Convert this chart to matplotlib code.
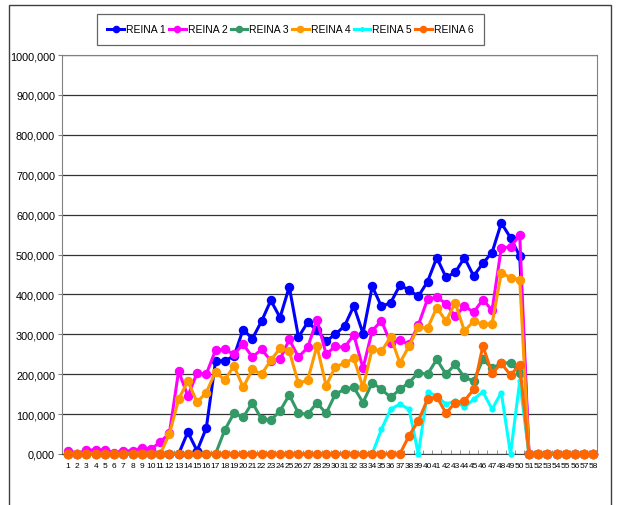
import matplotlib
matplotlib.use('agg')
import matplotlib.pyplot as plt
from matplotlib.ticker import FuncFormatter, FixedLocator
from matplotlib.patches import Rectangle

# dias del periodo (1..58) y produccion por reina
dias = list(range(1, 59))

reina1 = [0, 0, 0, 0, 0, 0, 0, 0, 0, 0, 0, 0, 0, 55000, 8000, 65000,
          232000, 234000, 245000, 312000, 289000, 333000, 385000, 342000, 419000, 293000,
          330000, 310000, 283000, 300000, 321000, 371000, 302000, 420000, 370000, 379000,
          423000, 411000, 395000, 432000, 492000, 443000, 455000, 492000, 446000, 478000,
          505000, 579000, 542000, 496000, 0, 0, 0, 0, 0, 0, 0, 0]
reina2 = [8000, 0, 10000, 10000, 10000, 3000, 8000, 8000, 15000, 12000, 30000, 52000,
          208000, 145000, 203000, 200000, 260000, 262000, 250000, 275000, 243000, 262000,
          234000, 237000, 287000, 243000, 267000, 337000, 250000, 270000, 267000, 299000,
          215000, 309000, 334000, 278000, 285000, 275000, 323000, 388000, 393000, 377000,
          345000, 371000, 355000, 387000, 360000, 517000, 519000, 548000, 0, 0, 0, 0, 0, 0, 0, 0]
reina3 = [0, 0, 0, 0, 0, 0, 0, 0, 0, 0, 0, 0, 0, 0, 0, 0, 0,
          60000, 102000, 92000, 129000, 87000, 85000, 108000, 148000, 102000, 100000, 128000,
          102000, 150000, 162000, 167000, 129000, 179000, 162000, 142000, 162000, 179000,
          204000, 200000, 237000, 200000, 225000, 192000, 183000, 237000, 215000, 227000,
          229000, 204000, 0, 0, 0, 0, 0, 0, 0, 0]
reina4 = [0, 0, 0, 0, 0, 0, 0, 0, 0, 0, 0, 50000, 137000, 183000, 130000, 154000,
          206000, 185000, 221000, 167000, 212000, 200000, 235000, 265000, 258000, 177000,
          185000, 271000, 171000, 219000, 227000, 240000, 167000, 264000, 257000, 294000,
          228000, 271000, 318000, 315000, 367000, 333000, 379000, 308000, 333000, 325000,
          327000, 454000, 442000, 437000, 0, 0, 0, 0, 0, 0, 0, 0]
reina5 = [0] * 34 + [62000, 112000, 125000, 112000, 0, 156000, 145000, 125000, 133000,
                     117000, 137000, 156000, 112000, 154000, 0, 183000] + [0] * 8
reina6 = [0] * 37 + [46000, 83000, 137000, 144000, 102000, 129000, 133000, 162000,
                     271000, 202000, 227000, 198000, 223000] + [0] * 8

nombres = ['REINA 1', 'REINA 2', 'REINA 3', 'REINA 4', 'REINA 5', 'REINA 6']
colores = ['#0000FF', '#FF00FF', '#339966', '#FF9900', '#00FFFF', '#FF6600']
series = [reina1, reina2, reina3, reina4, reina5, reina6]

plt.rcParams['font.family'] = ['Liberation Sans Narrow', 'Liberation Sans', 'DejaVu Sans']


def etiqueta_y(v, pos):
    # el eje original usa un formato raro: 0,000 ... 1000,000
    n = int(round(v))
    if n == 0:
        return '0,000'
    if n >= 1000000:
        return '1000,000'
    return '{:,}'.format(n)


fig = plt.figure(figsize=(6.17, 5.06), dpi=100)
ax = fig.add_axes([62 / 617, 1 - 455 / 506, 535 / 617, 399 / 506])

lineas = []
for nombre, color, valores in zip(nombres, colores, series):
    ms = 4.5 if nombre == 'REINA 5' else 6.8
    l, = ax.plot(dias, valores, color=color, lw=2.2, marker='o', ms=ms,
                 markeredgewidth=0, label=nombre, clip_on=False, zorder=3)
    lineas.append(l)

ax.set_xlim(0.35, 58.38)
ax.set_ylim(0, 1000000)
ax.yaxis.set_major_locator(FixedLocator(list(range(0, 1000001, 100000))))
ax.yaxis.set_major_formatter(FuncFormatter(etiqueta_y))
ax.grid(axis='y', color='#333333', lw=0.9)
ax.set_axisbelow(True)

ax.set_xticks(dias)
ax.set_xticklabels([str(d) for d in dias])
ax.set_xticks([d + 0.5 for d in dias[:-1]], minor=True)
ax.tick_params(axis='x', which='major', length=0, labelsize=6, pad=6)
ax.tick_params(axis='x', which='minor', direction='in', length=3, color='#808080')
ax.tick_params(axis='y', length=3, labelsize=7.8, pad=2, color='#808080')

for lado in ['left', 'top', 'right']:
    ax.spines[lado].set_color('#808080')
ax.spines['bottom'].set_color('#404040')

leg = fig.legend(handles=lineas, loc='upper left', bbox_to_anchor=(97 / 617, 1 - 15 / 506),
                 borderaxespad=0, ncol=6, fontsize=7.5, frameon=True, fancybox=False,
                 edgecolor='#404040', handlelength=1.6, handletextpad=0.2, columnspacing=0.3,
                 borderpad=1.0, markerscale=0.8)
leg.get_frame().set_linewidth(0.9)

# marco exterior del grafico
fig.patches.append(Rectangle((8.5 / 617, -0.02), 602 / 617, 1 - 5.5 / 506 + 0.02,
                             transform=fig.transFigure, fill=False, edgecolor='#404040', lw=1))

fig.savefig('out.png', dpi=100)
